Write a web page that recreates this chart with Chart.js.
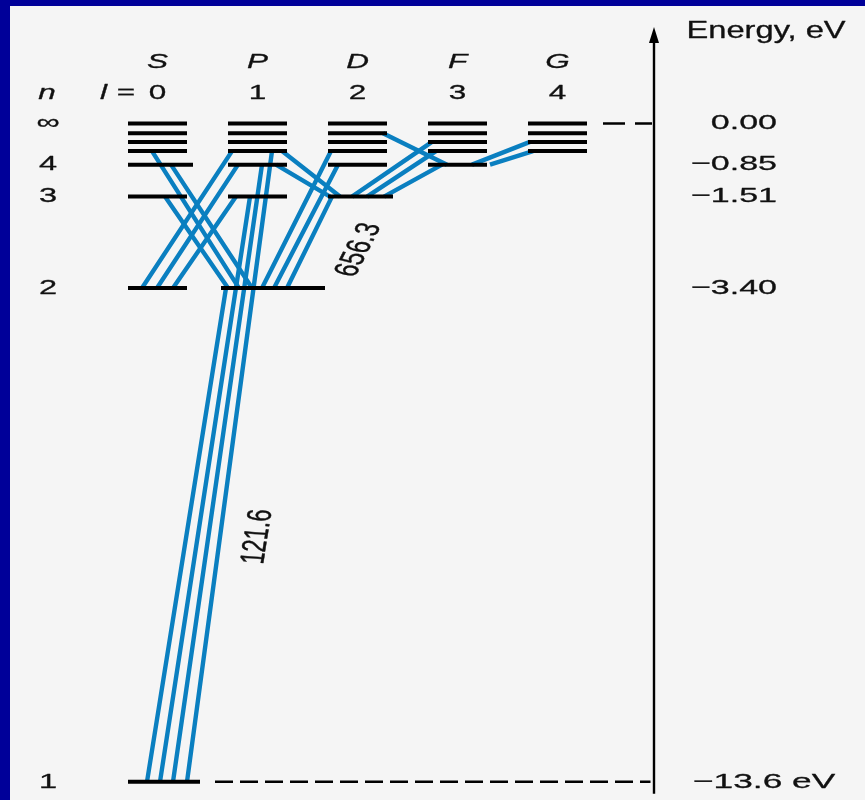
<!DOCTYPE html>
<html><head><meta charset="utf-8">
<script src="https://cdn.jsdelivr.net/npm/chart.js@4/dist/chart.umd.min.js"></script>
<style>
html,body{margin:0;padding:0;background:#000099;width:865px;height:800px;overflow:hidden}
#wrap{position:absolute;left:10px;top:6px;width:855px;height:794px;background:#f5f5f5}
</style></head><body>
<div id="wrap"><canvas id="c"></canvas></div>
<script>
// ---------------- DATA ----------------
// orbital columns (l quantum number) and their letters
const orbitalLetters = ['S','P','D','F','G'];
const orbitalL = [0,1,2,3,4];
// principal levels: label and drawn energy (eV); levels above n=4 are drawn schematically
const levelN = ['1','2','3','4','5','6','7','∞'];
const levelE = [-13.6,-3.40,-1.51,-0.85,-0.57,-0.38,-0.20,0.00];
// energy axis labels
const energyTicks = [0.00,-0.85,-1.51,-3.40,-13.6];
const energyTickLabels = ['0.00','\u22120.85','\u22121.51','\u22123.40','\u221213.6 eV'];
// left-side n labels
const nLabels = ['\u221e','4','3','2','1'];
const nLabelE = [0.00,-0.85,-1.51,-3.40,-13.6];
// transitions: [upper x (column units), upper E, lower x, lower E]
const lymanLines = [ // nP -> 1S  (121.6 nm)
  [0.685,-3.40,-0.105,-13.6],
  [0.925,-1.51, 0.025,-13.6],
  [1.045,-0.85, 0.155,-13.6],
  [1.145,-0.57, 0.295,-13.6]
];
const sTo2PLines = [ // nS -> 2P
  [0.075,-1.51,0.705,-3.40],
  [0.135,-0.85,0.945,-3.40],
  [-0.055,-0.57,0.815,-3.40]
];
const pTo2SLines = [ // nP -> 2S
  [0.785,-1.51, 0.155,-3.40],
  [0.805,-0.85,-0.005,-3.40],
  [0.745,-0.57,-0.155,-3.40]
];
const dTo2PLines = [ // nD -> 2P (656.3 nm)
  [1.735,-0.57,1.045,-3.40],
  [1.805,-0.85,1.165,-3.40],
  [1.745,-1.51,1.295,-3.40]
];
const pTo3DLines = [ // nP -> 3D
  [1.245,-0.57,1.825,-1.51],
  [1.185,-0.85,1.725,-1.51]
];
const fTo3DLines = [ // nF -> 3D
  [2.745,-0.38,1.945,-1.51],
  [2.785,-0.57,2.095,-1.51],
  [2.845,-0.85,2.265,-1.51]
];
const dTo4FLines = [ // nD -> 4F
  [2.255,-0.20,2.895,-0.85]
];
const gTo4FLines = [ // nG -> 4F
  [3.725,-0.38,3.145,-0.85],
  [3.755,-0.57,3.325,-0.85]
];
const wavelengthLabels = ['121.6','656.3'];

// ---------------- STYLE / LAYOUT ----------------
const BLUE = '#0a7fc0';
const INK = '#111';
const SX = 1.5;             // horizontal stretch of the lettering
const FONT = '"Liberation Sans", Arial, sans-serif';
const HALF = 0.295;         // half width of a level bar
// special bar extents keyed 'column-level'
const barExtents = {
  '0-0':[-0.295,0.425], '0-3':[-0.295,0.355],
  '1-1':[-0.365,0.675], '2-2':[-0.295,0.355]
};

function seg(list){
  const out=[];
  list.forEach(t=>{ out.push({x:t[0],y:t[1]},{x:t[2],y:t[3]},{x:null,y:null}); });
  return out;
}
const levelData=[];
orbitalL.forEach((l,ci)=>{
  levelE.forEach((e,li)=>{
    if(li<ci) return;
    const ext = barExtents[ci+'-'+li] || [-HALF,HALF];
    levelData.push({x:l+ext[0],y:e},{x:l+ext[1],y:e},{x:null,y:null});
  });
});

function blueSet(list){
  return {data:seg(list),showLine:true,borderColor:BLUE,borderWidth:4.4,pointRadius:0,
          spanGaps:false,borderCapStyle:'butt',order:2};
}
const AXIS_X = 4.965;
const datasets=[
  {data:levelData,showLine:true,borderColor:'#000',borderWidth:4,pointRadius:0,spanGaps:false,borderCapStyle:'butt',order:0},
  blueSet(lymanLines),blueSet(sTo2PLines),blueSet(pTo2SLines),blueSet(dTo2PLines),
  blueSet(pTo3DLines),blueSet(fTo3DLines),blueSet(dTo4FLines),blueSet(gTo4FLines),
  // dashed reference lines and energy axis
  {data:[{x:4.455,y:levelE[7]},{x:4.945,y:levelE[7]}],showLine:true,borderColor:'#000',borderWidth:2.6,borderDash:[22,10],pointRadius:0,order:0},
  {data:[{x:0.575,y:levelE[0]},{x:4.93,y:levelE[0]}],showLine:true,borderColor:'#000',borderWidth:2.6,borderDash:[18,7],pointRadius:0,order:0},
  {data:[{x:AXIS_X,y:-13.85},{x:AXIS_X,y:1.75}],showLine:true,borderColor:'#000',borderWidth:2.4,pointRadius:0,order:0}
];

function txt(ctx,s,x,y,o){
  o=o||{};
  ctx.save();
  ctx.translate(x,y);
  ctx.scale(o.sx||SX,1);
  if(o.rot) ctx.rotate(o.rot);
  ctx.font=(o.italic?'italic ':'')+(o.size||20)+'px '+FONT;
  ctx.fillStyle=INK; ctx.strokeStyle=INK; ctx.lineWidth=0.3; ctx.lineJoin='round';
  ctx.textAlign=o.align||'center';
  ctx.textBaseline=o.base||'middle';
  ctx.fillText(s,0,0);
  ctx.strokeText(s,0,0);
  ctx.restore();
}

const labelsPlugin={
  id:'labels',
  afterDatasetsDraw(chart){
    const ctx=chart.ctx, xs=chart.scales.x, ys=chart.scales.y;
    const X=v=>xs.getPixelForValue(v), Y=v=>ys.getPixelForValue(v);
    // arrow head of energy axis
    ctx.save();
    ctx.fillStyle='#000';
    ctx.beginPath();
    ctx.moveTo(X(AXIS_X),Y(1.994));
    ctx.lineTo(X(AXIS_X)-5,Y(1.663));
    ctx.lineTo(X(AXIS_X)+5,Y(1.663));
    ctx.closePath(); ctx.fill();
    ctx.restore();
    // axis title
    txt(ctx,'Energy, eV',X(5.29),Y(1.767),{align:'left',base:'alphabetic',size:23,sx:1.42});
    // energy labels
    energyTicks.forEach((v,i)=>{
      if(i===energyTicks.length-1) txt(ctx,energyTickLabels[i],X(5.355),Y(v),{align:'left',size:21,sx:1.68});
      else txt(ctx,energyTickLabels[i],X(6.195),Y(v),{align:'right',size:21,sx:1.62});
    });
    // n labels on the left
    nLabels.forEach((s,i)=>txt(ctx,s,X(-1.095),Y(nLabelE[i]),{size:21,sx:1.55}));
    txt(ctx,'n',X(-1.105),Y(0.506),{italic:true,size:21,base:'alphabetic'});
    // column headers
    txt(ctx,'l',X(-0.575),Y(0.506),{italic:true,size:21,base:'alphabetic',align:'left'});
    txt(ctx,'=',X(-0.315),Y(0.506),{size:21,base:'alphabetic'});
    orbitalL.forEach((l,i)=>{
      txt(ctx,orbitalLetters[i],X(l),Y(1.147),{italic:true,size:21,base:'alphabetic'});
      txt(ctx,String(l),X(l),Y(0.506),{size:21,base:'alphabetic'});
    });
    // wavelength labels along the bundles
    txt(ctx,wavelengthLabels[0],X(1.005),Y(-8.54),{size:22,sx:1.55,rot:-84*Math.PI/180});
    txt(ctx,wavelengthLabels[1],X(2.015),Y(-2.61),{size:22,sx:1.55,rot:-72*Math.PI/180});
  }
};

new Chart(document.getElementById('c'),{
  type:'scatter',
  data:{datasets},
  options:{
    responsive:true,maintainAspectRatio:false,animation:false,events:[],
    layout:{padding:0},
    plugins:{legend:{display:false},tooltip:{enabled:false}},
    scales:{
      x:{type:'linear',min:-1.475,max:7.075,display:false},
      y:{type:'linear',min:-13.977,max:2.428,display:false}
    }
  },
  plugins:[labelsPlugin]
});
</script></body></html>
